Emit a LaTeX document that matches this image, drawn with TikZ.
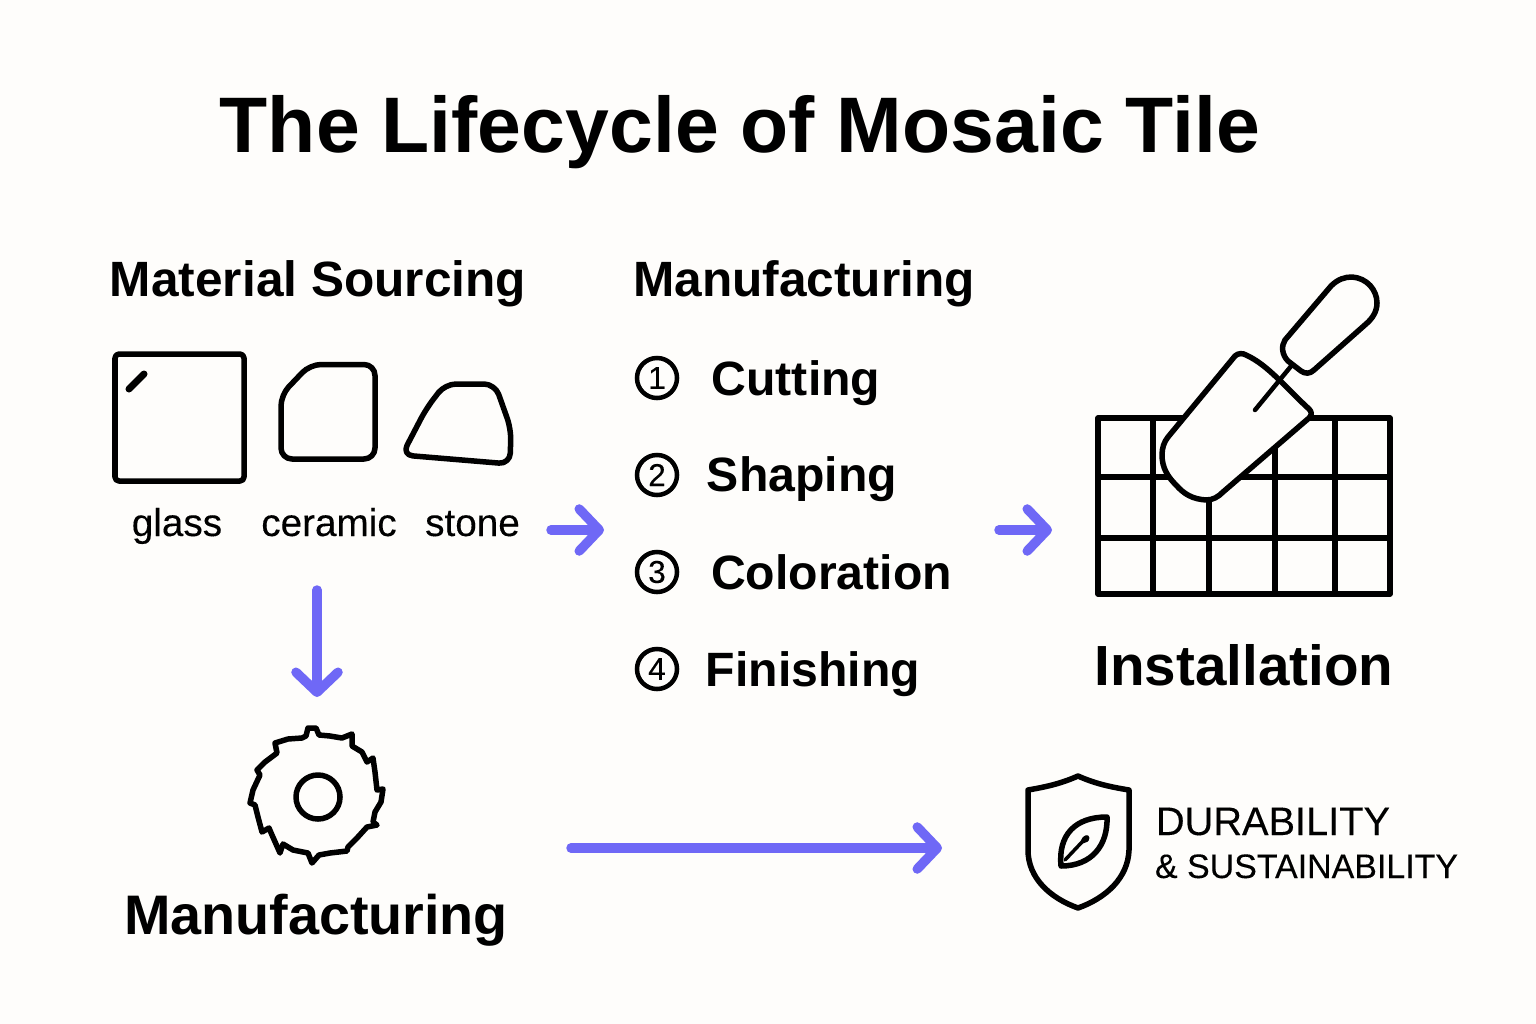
\documentclass[tikz,border=0pt]{standalone}
\usepackage{fontspec}
\setmainfont{Liberation Sans}
\newfontfamily\mediumfont[FakeBold=0.2]{Liberation Sans}
\usetikzlibrary{arrows.meta}
\definecolor{paper}{HTML}{FEFDFB}
\definecolor{arrowblue}{HTML}{6F68F6}
\begin{document}
\begin{tikzpicture}[x=0.01cm, y=-0.01cm,
    titletext/.style={font=\fontsize{22.4}{26}\selectfont\bfseries, anchor=base, inner sep=0pt},
    headtext/.style={font=\fontsize{14.1}{16}\selectfont\bfseries, anchor=base, inner sep=0pt},
    steptext/.style={font=\fontsize{13.7}{16}\selectfont\bfseries, anchor=base, inner sep=0pt},
    bigtext/.style={font=\fontsize{16.1}{18}\selectfont\bfseries, anchor=base, inner sep=0pt},
    labeltext/.style={font=\fontsize{11}{13}\mediumfont, anchor=base, inner sep=0pt},
    numcircle/.style={circle, draw, line width=0.45mm, minimum size=0.4cm, inner sep=0pt, font=\fontsize{9}{10}\mediumfont},
    icon/.style={line width=0.55mm, line join=round, line cap=round},
    arrow/.style={line width=0.95mm, color=arrowblue, line cap=round, -{Straight Barb[length=2mm, width=4.2mm, round]}}]
    \fill[paper] (0,0) rectangle (1536,1024);
    \useasboundingbox (0,0) rectangle (1536,1024);

    \node[titletext](title) at (740, 152) {The Lifecycle of Mosaic Tile};
    \node[headtext](sourcing) at (318, 296) {Material Sourcing};
    \node[headtext](manufacturing) at (804, 296) {Manufacturing};

    % material samples
    \draw[icon, rounded corners=0.4mm] (115,354) rectangle (244,481);
    \draw[icon, line width=0.7mm] (129,389) -- (144,374);
    \draw[icon, rounded corners=1.1mm] (281,395) -- (310,364.5) -- (375,364.5) -- (375,459) -- (281,459) -- cycle;
    \draw[icon, rounded corners=1.1mm] (402,455) -- (426,409) -- (445,384) -- (495,384) -- (511,429) -- (510,464) -- cycle;
    \node[labeltext](glass) at (177, 536) {glass};
    \node[labeltext](ceramic) at (329, 536) {ceramic};
    \node[labeltext](stone) at (472.5, 536) {stone};

    % numbered steps
    \node[numcircle](num_one) at (657, 378) {1};
    \node[numcircle](num_two) at (657, 475) {2};
    \node[numcircle](num_three) at (657, 572) {3};
    \node[numcircle](num_four) at (657, 669) {4};
    \node[steptext](cutting) at (796, 395) {Cutting};
    \node[steptext](shaping) at (802, 491) {Shaping};
    \node[steptext](coloration) at (831.5, 589) {Coloration};
    \node[steptext](finishing) at (813, 686) {Finishing};

    % tile grid and trowel
    \draw[icon] (1098,418) rectangle (1390,594);
    \foreach \y in {477, 538} {
        \draw[icon] (1098,\y) -- (1390,\y);
    }
    \foreach \x in {1153, 1209, 1275, 1335} {
        \draw[icon] (\x,418) -- (\x,594);
    }
    \draw[icon, fill=paper] (1168,437) -- (1235,356) .. controls (1238,353) and (1243,353) .. (1246,355)
        .. controls (1268,365) and (1285,387) .. (1309,409) .. controls (1312,412) and (1312,415) .. (1309,418)
        -- (1223,492) .. controls (1218,497) and (1213,500) .. (1206,500)
        .. controls (1192,499) and (1184,494) .. (1176,485) .. controls (1168,477) and (1162,468) .. (1162,455)
        .. controls (1162,448) and (1164,442) .. (1168,437) -- cycle;
    \draw[icon, line width=0.45mm] (1255,410) -- (1292,365);
    \draw[icon, fill=paper] (1285,340) -- (1331,286) .. controls (1338,279) and (1345,277) .. (1352,277)
        .. controls (1367,278) and (1377,290) .. (1377,303) .. controls (1377,311) and (1373,318) .. (1366,324)
        -- (1314,370) .. controls (1310,374) and (1305,374) .. (1301,371) -- (1288,361)
        .. controls (1282,355) and (1281,346) .. (1285,340) -- cycle;
    \node[bigtext](installation) at (1244, 685) {Installation};

    % saw blade
    \draw[icon] (302,738) -- (306,736) -- (308,728) -- (316,728) -- (319,735) -- (330,736) -- (342,738) -- (352,734)
        -- (352,746) -- (362,752) -- (367,762) -- (373,758) -- (375,772) -- (377,790) -- (383,789) -- (381,802)
        -- (375,812) -- (373,822) -- (377,825) -- (367,827) -- (357,838) -- (348,847) -- (347,851) -- (330,853)
        -- (319,855) -- (312,863) -- (308,853) -- (293,850) -- (283,844) -- (280,853) -- (272,835) -- (269,828)
        -- (262,832) -- (258,817) -- (255,805) -- (250,803) -- (253,790) -- (260,775) -- (257,770) -- (265,762)
        -- (277,753) -- (275,743) -- (288,739) -- cycle;
    \draw[icon] (318,797) circle (0.22cm);
    \node[bigtext, font=\fontsize{15.85}{18}\selectfont\bfseries](blade_label) at (316, 934) {Manufacturing};

    % shield with leaf
    \draw[icon] (1078,776) .. controls (1060,784) and (1045,787) .. (1028,790) -- (1028,850)
        .. controls (1028,878) and (1050,898) .. (1078,908) .. controls (1106,898) and (1128,878) .. (1129,850)
        -- (1129,790) .. controls (1111,787) and (1096,784) .. (1078,776) -- cycle;
    \draw[icon] (1061,866) .. controls (1058,835) and (1075,817) .. (1107,817)
        .. controls (1108,845) and (1092,866) .. (1061,866) -- cycle;
    \draw[icon, line width=0.35mm] (1065,860) -- (1082,842) .. controls (1084,836) and (1090,835) .. (1087,840) -- (1082,842);
    \node[labeltext, font=\fontsize{11.3}{13}\mediumfont](durability) at (1273, 835) {DURABILITY};
    \node[labeltext, font=\fontsize{9.65}{11}\mediumfont](sustainability) at (1306.5, 878) {\& SUSTAINABILITY};

    % connectors
    \coordinate (sourcing_out) at (551, 530);
    \coordinate (steps_in) at (604, 530);
    \coordinate (steps_out) at (999, 530);
    \coordinate (grid_in) at (1052, 530);
    \coordinate (samples_out) at (317, 590);
    \coordinate (blade_in) at (317, 697);
    \coordinate (blade_out) at (571, 848);
    \coordinate (shield_in) at (942, 848);
    \draw[arrow] (sourcing_out) -- (steps_in);
    \draw[arrow] (steps_out) -- (grid_in);
    \draw[arrow] (samples_out) -- (blade_in);
    \draw[arrow] (blade_out) -- (shield_in);
\end{tikzpicture}
\end{document}
